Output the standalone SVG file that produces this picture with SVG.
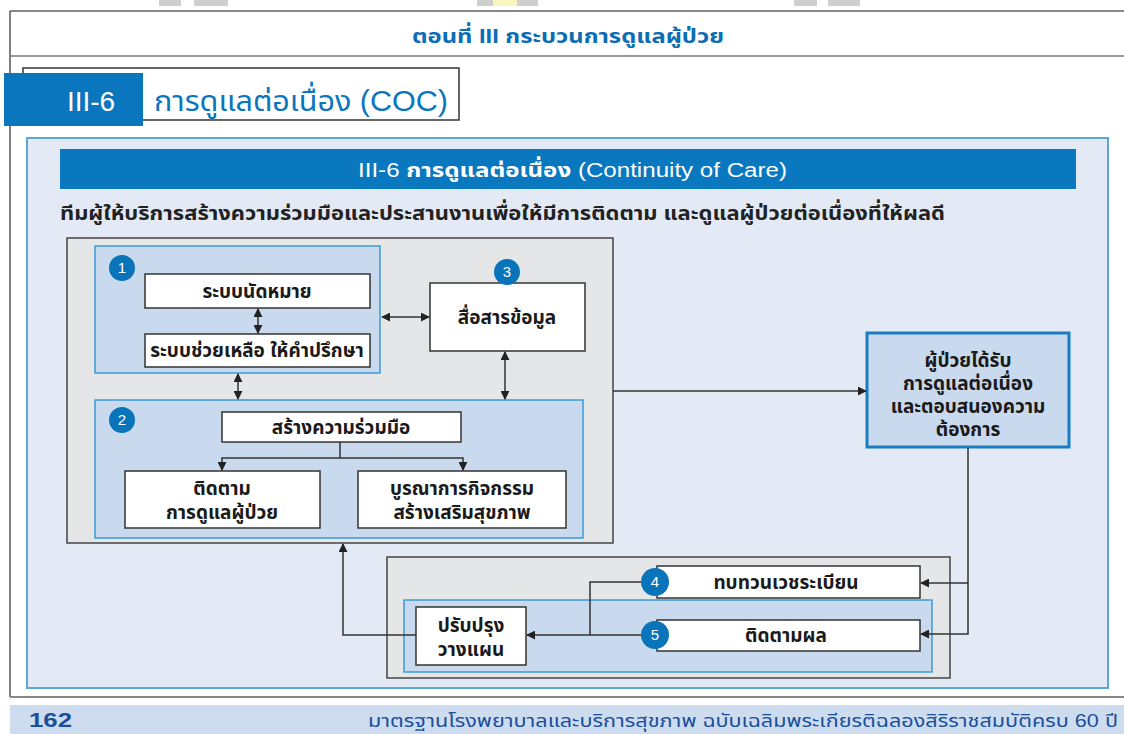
<svg xmlns="http://www.w3.org/2000/svg" width="1124" height="734" viewBox="0 0 1124 734">
<defs>
<marker id="ah" viewBox="0 0 10 10" refX="9" refY="5" markerWidth="9" markerHeight="9" markerUnits="userSpaceOnUse" orient="auto-start-reverse">
<path d="M0,0 L10,5 L0,10 z" fill="#222"/>
</marker>
<style>
text{font-family:"Liberation Sans","Noto Sans Thai","Noto Sans",sans-serif;}
.lbl{font-size:19px;fill:#1a1a1a;text-anchor:middle;font-weight:bold;}
.wbox{fill:#fff;stroke:#333;stroke-width:1.5;}
.grp{fill:#c9d9ee;stroke:#3a9ad9;stroke-width:1.5;}
.gray{fill:#e5e6e8;stroke:#444;stroke-width:1.5;}
.num{fill:#0a74bb;}
.numt{font-size:15px;fill:#fff;text-anchor:middle;}
.con{fill:none;stroke:#333;stroke-width:1.5;}
</style>
</defs>
<rect width="1124" height="734" fill="#fff"/>
<!-- top marks -->
<rect x="159" y="0" width="22" height="6" fill="#cfcfcf"/>
<rect x="194" y="0" width="34" height="6" fill="#cfcfcf"/>
<rect x="477" y="0" width="61" height="6" fill="#cfcfcf"/>
<rect x="493" y="0" width="24" height="6" fill="#fbf6c0"/>
<rect x="794" y="0" width="23" height="6" fill="#cfcfcf"/>
<rect x="828" y="0" width="32" height="6" fill="#cfcfcf"/>
<!-- page frame -->
<line x1="10" y1="11" x2="1124" y2="11" stroke="#888" stroke-width="2"/>
<line x1="10" y1="11" x2="10" y2="697" stroke="#555" stroke-width="1.5"/>
<line x1="10" y1="56" x2="1124" y2="56" stroke="#777" stroke-width="1.5"/>
<line x1="10" y1="697" x2="1124" y2="697" stroke="#888" stroke-width="2"/>
<text x="412" y="43" font-size="20" font-weight="bold" fill="#0a6db5" textLength="312" lengthAdjust="spacingAndGlyphs">ตอนที่ III  กระบวนการดูแลผู้ป่วย</text>
<!-- section title -->
<rect x="23" y="68" width="436" height="52" fill="#fff" stroke="#333" stroke-width="1.5"/>
<rect x="4" y="73" width="139" height="53" fill="#0a76bd"/>
<text x="91" y="111" font-size="28" fill="#fff" text-anchor="middle">III-6</text>
<text x="154" y="111" font-size="29" fill="#0a76bd" textLength="294" lengthAdjust="spacingAndGlyphs">การดูแลต่อเนื่อง (COC)</text>
<!-- main panel -->
<rect x="27" y="138" width="1081" height="550" fill="#e3eaf5" stroke="#5aa8d8" stroke-width="2"/>
<rect x="60" y="149" width="1016" height="40" fill="#0a78bf"/>
<text x="358" y="177" font-size="20" fill="#fff" textLength="429" lengthAdjust="spacingAndGlyphs">III-6  <tspan font-weight="bold">การดูแลต่อเนื่อง</tspan> (Continuity of Care)</text>
<text x="60" y="220" font-size="20" font-weight="bold" fill="#222" textLength="885" lengthAdjust="spacingAndGlyphs">ทีมผู้ให้บริการสร้างความร่วมมือและประสานงานเพื่อให้มีการติดตาม และดูแลผู้ป่วยต่อเนื่องที่ให้ผลดี</text>

<g id="group-main">
<rect class="gray" x="67" y="238" width="546" height="305"/>
</g>
<g id="group-1">
<rect class="grp" x="95" y="246" width="285" height="127"/>
<circle class="num" cx="122" cy="268" r="13"/>
<text class="numt" x="122" y="273">1</text>
</g>
<g id="node-appointment">
<rect class="wbox" x="145" y="274" width="225" height="34"/>
<text class="lbl" x="257" y="298">ระบบนัดหมาย</text>
</g>
<g id="node-help">
<rect class="wbox" x="145" y="334" width="225" height="33"/>
<text class="lbl" x="257" y="357">ระบบช่วยเหลือ ให้คำปรึกษา</text>
</g>
<g id="node-communicate">
<rect class="wbox" x="430" y="283" width="155" height="68"/>
<text class="lbl" x="507" y="324">สื่อสารข้อมูล</text>
<circle class="num" cx="507" cy="272" r="13"/>
<text class="numt" x="507" y="277">3</text>
</g>
<g id="group-2">
<rect class="grp" x="95" y="400" width="488" height="138"/>
<circle class="num" cx="122" cy="420" r="13"/>
<text class="numt" x="122" y="425">2</text>
</g>
<g id="node-cooperate">
<rect class="wbox" x="222" y="412" width="239" height="30"/>
<text class="lbl" x="341" y="434">สร้างความร่วมมือ</text>
</g>
<g id="node-follow">
<rect class="wbox" x="125" y="471" width="195" height="57"/>
<text class="lbl" x="222" y="495">ติดตาม</text>
<text class="lbl" x="222" y="519">การดูแลผู้ป่วย</text>
</g>
<g id="node-integrate">
<rect class="wbox" x="358" y="471" width="208" height="57"/>
<text class="lbl" x="462" y="495">บูรณาการกิจกรรม</text>
<text class="lbl" x="462" y="519">สร้างเสริมสุขภาพ</text>
</g>
<g id="node-patient">
<rect x="867" y="333" width="202" height="114" fill="#c9d9ee" stroke="#1a7cc0" stroke-width="3"/>
<text class="lbl" x="968" y="367">ผู้ป่วยได้รับ</text>
<text class="lbl" x="968" y="390">การดูแลต่อเนื่อง</text>
<text class="lbl" x="968" y="413">และตอบสนองความ</text>
<text class="lbl" x="968" y="436">ต้องการ</text>
</g>
<g id="group-bottom">
<rect class="gray" x="387" y="557" width="563" height="121"/>
<rect class="grp" x="404" y="600" width="528" height="72"/>
</g>
<g id="node-review">
<rect class="wbox" x="657" y="566" width="263" height="32"/>
<text class="lbl" x="786" y="589">ทบทวนเวชระเบียน</text>
<circle class="num" cx="655" cy="582" r="14"/>
<text class="numt" x="655" y="587">4</text>
</g>
<g id="node-result">
<rect class="wbox" x="657" y="620" width="263" height="31"/>
<text class="lbl" x="786" y="642">ติดตามผล</text>
<circle class="num" cx="655" cy="635" r="14"/>
<text class="numt" x="655" y="640">5</text>
</g>
<g id="node-plan">
<rect class="wbox" x="416" y="607" width="110" height="58"/>
<text class="lbl" x="471" y="632">ปรับปรุง</text>
<text class="lbl" x="471" y="656">วางแผน</text>
</g>

<g id="connectors">
<line class="con" x1="258" y1="309" x2="258" y2="333" marker-start="url(#ah)" marker-end="url(#ah)"/>
<line class="con" x1="382" y1="317" x2="429" y2="317" marker-start="url(#ah)" marker-end="url(#ah)"/>
<line class="con" x1="238" y1="374" x2="238" y2="399" marker-start="url(#ah)" marker-end="url(#ah)"/>
<line class="con" x1="505" y1="352" x2="505" y2="399" marker-start="url(#ah)" marker-end="url(#ah)"/>
<polyline class="con" points="340,442 340,458"/>
<polyline class="con" points="222,470 222,458 463,458 463,470" marker-start="url(#ah)" marker-end="url(#ah)"/>
<line class="con" x1="613" y1="391" x2="866" y2="391" marker-end="url(#ah)"/>
<polyline class="con" points="968,448 968,634 921,634" marker-end="url(#ah)"/>
<line class="con" x1="968" y1="583" x2="921" y2="583" marker-end="url(#ah)"/>
<polyline class="con" points="641,582 590,582 590,635"/>
<line class="con" x1="641" y1="635" x2="527" y2="635" marker-end="url(#ah)"/>
<polyline class="con" points="416,635 343,635 343,544" marker-end="url(#ah)"/>
</g>

<!-- footer -->
<rect x="10" y="705" width="1114" height="29" fill="#cddcef"/>
<text x="29" y="727" font-size="21" font-weight="bold" fill="#1a4f9c" textLength="43" lengthAdjust="spacingAndGlyphs">162</text>
<text x="368" y="727" font-size="18" fill="#1a4f9c" textLength="750" lengthAdjust="spacingAndGlyphs">มาตรฐานโรงพยาบาลและบริการสุขภาพ ฉบับเฉลิมพระเกียรติฉลองสิริราชสมบัติครบ 60 ปี</text>
</svg>
